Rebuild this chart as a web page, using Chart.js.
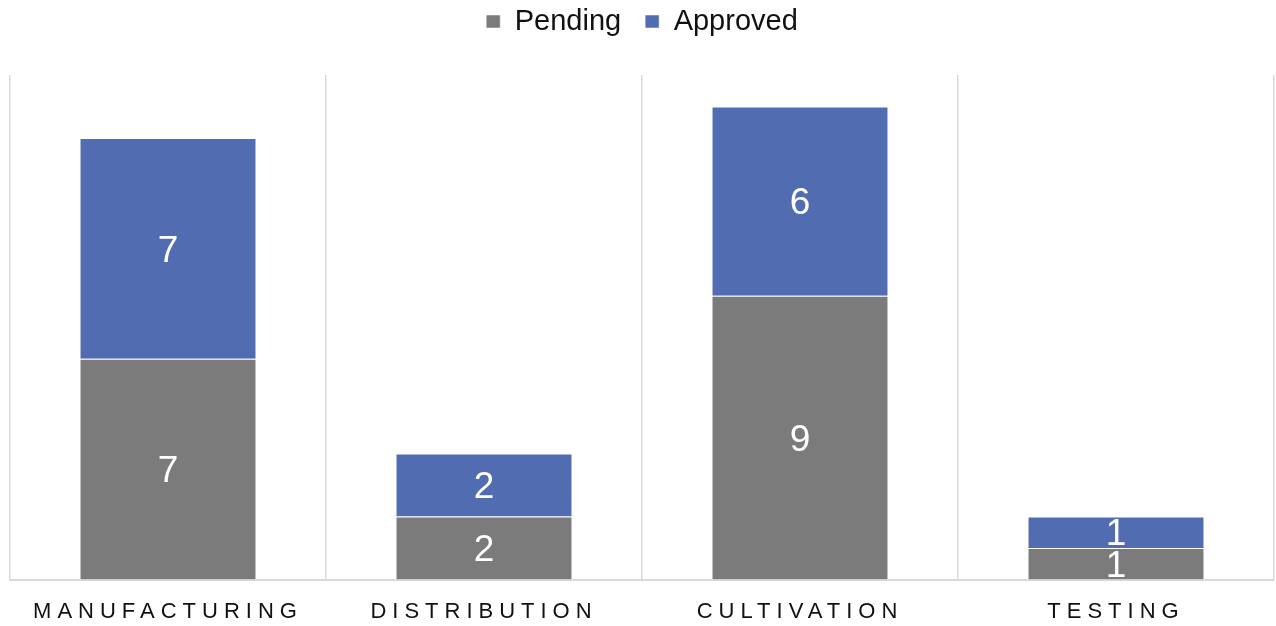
<!DOCTYPE html>
<html>
<head>
<meta charset="utf-8">
<script src="https://cdn.jsdelivr.net/npm/chart.js@4"></script>
<style>
  html, body { margin: 0; padding: 0; background: #fff; }
  #wrap { width: 1276px; height: 626px; }
</style>
</head>
<body>
<div id="wrap"><canvas id="my_chart"></canvas></div>
<script>
var categories = ['MANUFACTURING', 'DISTRIBUTION', 'CULTIVATION', 'TESTING']
var pending = [7, 2, 9, 1]
var approved = [7, 2, 6, 1]

// value labels in the middle of each segment, then spacing for the x labels
var valueLabels = {
  id: 'valueLabels',
  afterDatasetsDraw(chart) {
    var ctx = chart.ctx
    ctx.save()
    ctx.fillStyle = '#ffffff'
    ctx.font = '37px "Liberation Sans", Arial, sans-serif'
    ctx.textAlign = 'center'
    ctx.textBaseline = 'middle'
    chart.data.datasets.forEach(function(ds, i) {
      chart.getDatasetMeta(i).data.forEach(function(bar, j) {
        var p = bar.getProps(['x', 'y', 'base'], true)
        ctx.fillText(String(ds.data[j]), p.x, (p.y + p.base) / 2 + 3)
      })
    })
    ctx.restore()
    ctx.letterSpacing = '6px'
  },
  afterDraw(chart) {
    chart.ctx.letterSpacing = '0px'
  }
}

var legendGap = {
  id: 'legendGap',
  beforeInit(chart) {
    var fit = chart.legend.fit
    chart.legend.fit = function() {
      fit.bind(chart.legend)()
      this.height += 29
    }
  }
}

window.addEventListener('DOMContentLoaded', () => {
  var ctx = document.getElementById('my_chart')
  new Chart(ctx, {
    type: 'bar',
    data: {
      labels: categories,
      datasets: [
        {
          label: 'Pending',
          data: pending,
          backgroundColor: '#7b7b7b',
          borderColor: 'rgba(255,255,255,0.5)',
          borderWidth: 1
        },
        {
          label: 'Approved',
          data: approved,
          backgroundColor: '#516cb0',
          borderColor: 'rgba(255,255,255,0.5)',
          borderWidth: 1
        }
      ]
    },
    options: {
      responsive: true,
      maintainAspectRatio: false,
      animation: false,
      layout: { padding: { left: 10, right: 2, top: -17, bottom: 0 } },
      datasets: {
        bar: { categoryPercentage: 1, barPercentage: 0.56 }
      },
      plugins: {
        tooltip: { enabled: false },
        legend: {
          position: 'top',
          labels: {
            boxWidth: 14,
            boxHeight: 13,
            padding: 24,
            color: '#111',
            font: { family: '"Liberation Sans", Arial, sans-serif', size: 29 }
          }
        }
      },
      scales: {
        x: {
          stacked: true,
          grid: {
            color: '#d9d9d9',
            lineWidth: 1.5,
            drawTicks: true,
            tickLength: 18,
            tickColor: 'rgba(0,0,0,0)',
            offset: true
          },
          border: { color: '#d9d9d9', width: 2 },
          ticks: {
            z: 1,
            padding: 1,
            color: '#111',
            maxRotation: 0,
            autoSkip: false,
            font: { family: '"Liberation Sans", Arial, sans-serif', size: 22 }
          }
        },
        y: {
          stacked: true,
          display: false,
          min: 0,
          max: 16
        }
      }
    },
    plugins: [valueLabels, legendGap]
  })
})
</script>
</body>
</html>
